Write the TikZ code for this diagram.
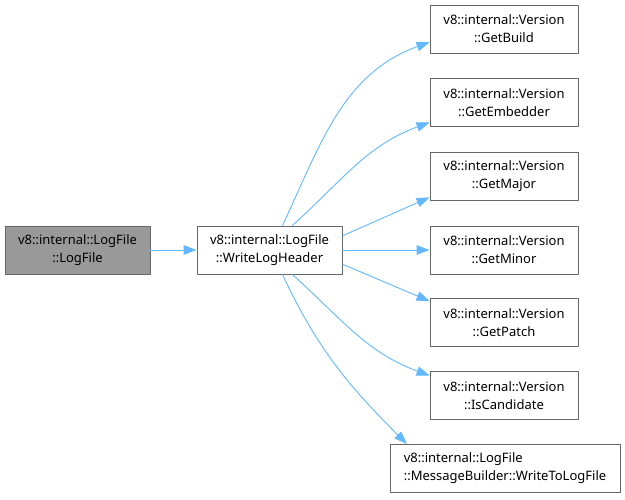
\documentclass[tikz,border=0pt]{standalone}
\usepackage{fontspec}
\setmainfont{Noto Sans}
\usetikzlibrary{arrows.meta}
\definecolor{edgeblue}{HTML}{63B8FF}
\definecolor{boxline}{HTML}{666666}
\definecolor{boxgray}{HTML}{999999}
\tikzset{callgraph/.style={
  x=1pt,y=1pt,
  >={Triangle[length=13pt,width=9.5pt]},line join=round
},
fn/.style={draw=boxline,fill=white,line width=0.9pt,minimum height=48pt,
  inner sep=3pt,align=center,font=\fontsize{13}{18}\selectfont},
caller/.style={fn,fill=boxgray},
call/.style={->,edgeblue,line width=0.9pt}
}

\begin{document}
\begin{tikzpicture}[callgraph]
  \useasboundingbox[fill=white] (0,0) rectangle (625,499);
  \node[caller,minimum width=145pt] (logfile) at (77.5,249) {v8::internal::LogFile\\::LogFile};
  \node[fn,minimum width=145pt] (writeheader) at (269.5,249) {v8::internal::LogFile\\::WriteLogHeader};
  \node[fn,minimum width=148pt] (getbuild) at (504,470) {v8::internal::Version\\::GetBuild};
  \node[fn,minimum width=148pt] (getembedder) at (504,396.5) {v8::internal::Version\\::GetEmbedder};
  \node[fn,minimum width=148pt] (getmajor) at (504,323) {v8::internal::Version\\::GetMajor};
  \node[fn,minimum width=148pt] (getminor) at (504,249) {v8::internal::Version\\::GetMinor};
  \node[fn,minimum width=148pt] (getpatch) at (504,176.5) {v8::internal::Version\\::GetPatch};
  \node[fn,minimum width=148pt] (iscandidate) at (504,103.5) {v8::internal::Version\\::IsCandidate};
  \node[fn,minimum width=230pt,align=left] (writetolog) at (505,30.5) {v8::internal::LogFile\\::MessageBuilder::WriteToLogFile};
  \draw[call] (logfile) -- (writeheader);
  \draw[call] (writeheader.62) to[out=65,in=200] (getbuild.190);
  \draw[call] (writeheader.47) to[out=42,in=200] (getembedder.195);
  \draw[call] (writeheader.11) -- (getmajor.196);
  \draw[call] (writeheader.east) -- (getminor.west);
  \draw[call] (writeheader.-11) -- (getpatch.164);
  \draw[call] (writeheader.-47) to[out=-42,in=160] (iscandidate.165);
  \draw[call] (writeheader.-62) to[out=-65,in=135] (writetolog.166);
\end{tikzpicture}
\end{document}
